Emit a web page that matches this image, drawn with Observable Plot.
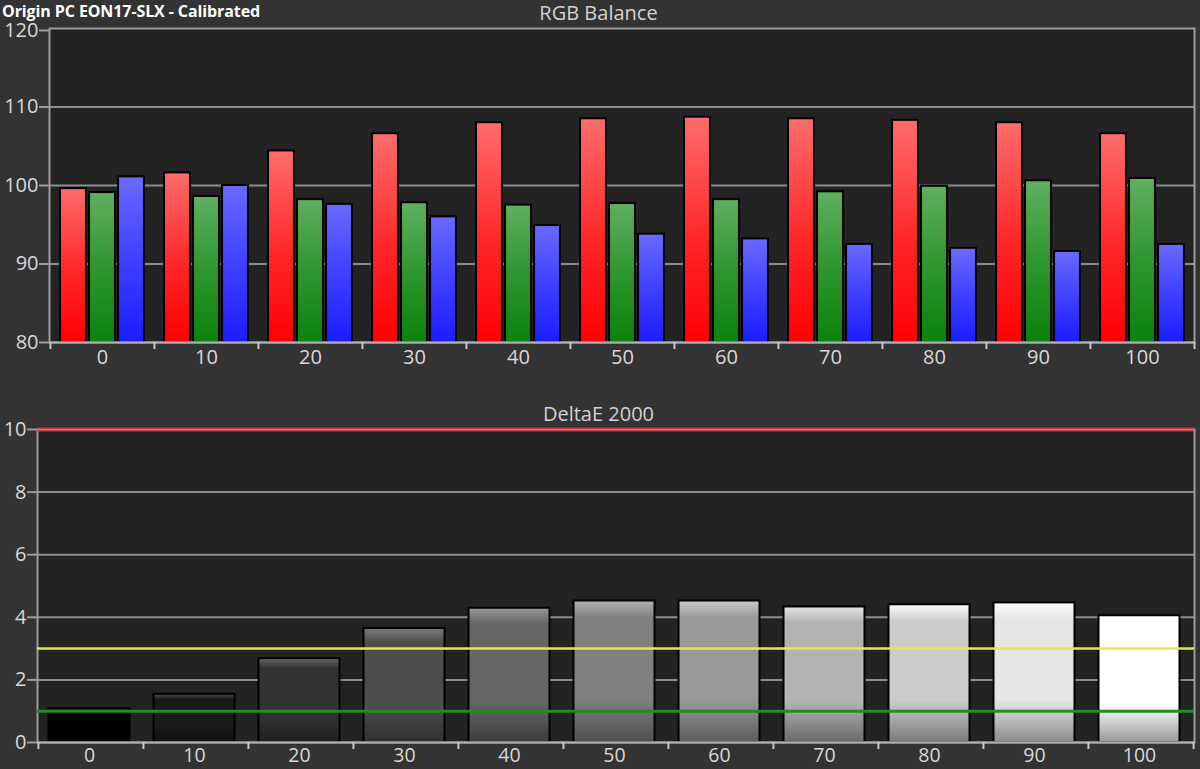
<!DOCTYPE html>
<html>
<head>
<meta charset="utf-8">
<script src="https://cdn.jsdelivr.net/npm/d3@7"></script>
<script src="https://cdn.jsdelivr.net/npm/@observablehq/plot@0.6"></script>
<style>
  html, body { margin: 0; padding: 0; background: #333333; }
  #wrap { position: relative; width: 1200px; height: 769px; overflow: hidden; background: #333333; font-family: "Open Sans", sans-serif; }
  .lbl { position: absolute; line-height: 1; white-space: nowrap; }
  #title { left: 2px; top: 3px; font-size: 16px; font-weight: bold; color: #ffffff; letter-spacing: -0.1px; }
  #rgbTitle { left: 0; width: 1197px; text-align: center; top: 3px; font-size: 20px; color: #d2d2d2; }
  #deTitle { left: 0; width: 1197px; text-align: center; top: 404px; font-size: 20px; color: #d2d2d2; }
  #topChart { position: absolute; left: 0; top: 0; }
  #botChart { position: absolute; left: 0; top: 380px; }
</style>
</head>
<body>
<div id="wrap">
  <div id="topChart"></div>
  <div id="botChart"></div>
  <div class="lbl" id="title">Origin PC EON17-SLX - Calibrated</div>
  <div class="lbl" id="rgbTitle">RGB Balance</div>
  <div class="lbl" id="deTitle">DeltaE 2000</div>
</div>
<script>
// ---------------- data ----------------
const levels = ["0", "10", "20", "30", "40", "50", "60", "70", "80", "90", "100"];
const red   = [99.6, 101.6, 104.4, 106.6, 108.0, 108.5, 108.7, 108.5, 108.3, 108.0, 106.6];
const green = [99.1, 98.6, 98.2, 97.8, 97.5, 97.7, 98.2, 99.2, 99.9, 100.6, 100.9];
const blue  = [101.1, 100.0, 97.6, 96.0, 94.9, 93.8, 93.2, 92.5, 92.0, 91.6, 92.5];
const deltaE = [1.08, 1.54, 2.68, 3.64, 4.29, 4.52, 4.52, 4.33, 4.40, 4.46, 4.05];
const rgbTicks = [80, 90, 100, 110];
const rgbTopTick = [120];
const rgbGrid = [90, 100, 110];
const deTicks = [0, 2, 4, 6, 8, 10];
const deGrid = [2, 4, 6, 8];
const deGood = 1;    // green line
const deWarn = 3;    // yellow line
const deLimit = 10;  // red line

// ---------------- layout ----------------
const W = 1200;
const fontFamily = "'Open Sans', sans-serif";
const labelColor = "#d8d8d8";
const gridColor = "#8e8e8e";
const frameColor = "#9c9c9c";

const rgbRows = levels.map((l, i) => ({level: l, r: red[i], g: green[i], b: blue[i]}));
const deRows = levels.map((l, i) => ({level: l, de: deltaE[i]}));

// ---------------- gradients ----------------
const NS = "http://www.w3.org/2000/svg";
function gradient(id, stops) {
  const g = document.createElementNS(NS, "linearGradient");
  g.setAttribute("id", id);
  g.setAttribute("x1", "0"); g.setAttribute("y1", "0");
  g.setAttribute("x2", "0"); g.setAttribute("y2", "1");
  for (const [off, col] of stops) {
    const s = document.createElementNS(NS, "stop");
    s.setAttribute("offset", off);
    s.setAttribute("stop-color", col);
    g.appendChild(s);
  }
  return g;
}
function addDefs(svg, grads) {
  const defs = document.createElementNS(NS, "defs");
  grads.forEach(g => defs.appendChild(g));
  svg.insertBefore(defs, svg.firstChild);
}
function grayOf(level) { return Math.round(255 * (+level) / 100); }
function hexGray(v) { v = Math.max(0, Math.min(255, Math.round(v))); return d3.rgb(v, v, v).formatHex(); }

// ---------------- top chart: RGB Balance ----------------
const tm = {top: 28, right: 6, bottom: 38, left: 49};
const topStep = (W - tm.left - tm.right) / levels.length;
const barW = 26, barGap = 3;
const edge = (topStep - 3 * barW - 2 * barGap) / 2;
function rgbInsets(k) {
  const l = edge + k * (barW + barGap);
  return {insetLeft: l, insetRight: topStep - l - barW};
}
const tickLen = 7;
const topUnit = (380 - tm.top - tm.bottom) / (120 - 80);
const yAxisStyle = {label: null, tickSize: 10, tickPadding: 1, fontSize: 20, stroke: frameColor, strokeWidth: 2, fill: labelColor};

const topPlot = Plot.plot({
  width: W, height: 380,
  marginTop: tm.top, marginRight: tm.right, marginBottom: tm.bottom, marginLeft: tm.left,
  style: {background: "transparent", color: labelColor, fontFamily, overflow: "visible"},
  x: {domain: levels, padding: 0, axis: null},
  y: {domain: [80, 120], axis: null},
  marks: [
    Plot.frame({fill: "#232323", stroke: null}),
    Plot.ruleY(rgbGrid, {stroke: gridColor, strokeWidth: 2}),
    Plot.barY(rgbRows, {x: "level", y1: 80, y2: "r", fill: "url(#gradR)", stroke: "#000", strokeWidth: 2, ...rgbInsets(0)}),
    Plot.barY(rgbRows, {x: "level", y1: 80, y2: "g", fill: "url(#gradG)", stroke: "#000", strokeWidth: 2, ...rgbInsets(1)}),
    Plot.barY(rgbRows, {x: "level", y1: 80, y2: "b", fill: "url(#gradB)", stroke: "#000", strokeWidth: 2, ...rgbInsets(2)}),
    Plot.frame({stroke: frameColor, strokeWidth: 2}),
    Plot.ruleY([80], {stroke: "#aeaeb8", strokeWidth: 2}),
    Plot.ruleX(levels, {x: d => d, y1: 80, y2: 80 - tickLen / topUnit, dx: -topStep / 2, stroke: "#c8c8c8", strokeWidth: 2}),
    Plot.ruleX(levels.slice(-1), {x: d => d, y1: 80, y2: 80 - tickLen / topUnit, dx: topStep / 2, stroke: "#c8c8c8", strokeWidth: 2}),
    Plot.axisY({ticks: rgbTicks, ...yAxisStyle}),
    Plot.axisY({ticks: rgbTopTick, ...yAxisStyle, dy: 2}),
    Plot.axisX({label: null, tickSize: 0, tickPadding: 7, fontSize: 20, fill: labelColor})
  ]
});
addDefs(topPlot, [
  gradient("gradR", [["0%", "#ff6c6c"], ["55%", "#ff2626"], ["100%", "#ff0000"]]),
  gradient("gradG", [["0%", "#5fb05f"], ["50%", "#2f962f"], ["100%", "#0b820b"]]),
  gradient("gradB", [["0%", "#6a6aff"], ["55%", "#3c3cff"], ["100%", "#1c1cff"]])
]);
document.getElementById("topChart").appendChild(topPlot);

// ---------------- bottom chart: DeltaE 2000 ----------------
const bm = {top: 49, right: 6, bottom: 27, left: 37};
const botStep = (W - bm.left - bm.right) / levels.length;
const botUnit = (389 - bm.top - bm.bottom) / 10;

const botPlot = Plot.plot({
  width: W, height: 389,
  marginTop: bm.top, marginRight: bm.right, marginBottom: bm.bottom, marginLeft: bm.left,
  style: {background: "transparent", color: labelColor, fontFamily, overflow: "visible"},
  x: {domain: levels, padding: 0, axis: null},
  y: {domain: [0, 10], axis: null},
  color: {type: "identity"},
  marks: [
    Plot.frame({fill: "#232323", stroke: null}),
    Plot.ruleY(deGrid, {stroke: gridColor, strokeWidth: 2}),
    Plot.barY(deRows, {x: "level", y1: 0, y2: "de", fill: d => `url(#gradD${d.level})`, stroke: "#000", strokeWidth: 2, insetLeft: 10.5, insetRight: 13.5}),
    Plot.frame({stroke: frameColor, strokeWidth: 2}),
    Plot.ruleY([0], {stroke: "#aeaeb8", strokeWidth: 2}),
    Plot.ruleY([deWarn], {stroke: "#e8e84a", strokeWidth: 2.5}),
    Plot.ruleY([deGood], {stroke: "#238c23", strokeWidth: 3}),
    Plot.ruleY([deLimit], {stroke: "#cc3c44", strokeWidth: 4}),
    Plot.ruleY([deLimit], {stroke: "#e0707a", strokeWidth: 1.2}),
    Plot.ruleX(levels, {x: d => d, y1: 0, y2: -tickLen / botUnit, dx: -botStep / 2, stroke: "#c8c8c8", strokeWidth: 2}),
    Plot.ruleX(levels.slice(-1), {x: d => d, y1: 0, y2: -tickLen / botUnit, dx: botStep / 2, stroke: "#c8c8c8", strokeWidth: 2}),
    Plot.axisY({ticks: deTicks, ...yAxisStyle}),
    Plot.axisX({label: null, tickSize: 0, tickPadding: 6, fontSize: 19.5, fill: labelColor, dx: -1.5})
  ]
});
addDefs(botPlot, levels.map(l => {
  const v = grayOf(l);
  return gradient(`gradD${l}`, [
    ["0%", hexGray(v + 50)],
    ["12%", hexGray(v)],
    ["70%", hexGray(v)],
    ["100%", hexGray(v * 0.6)]
  ]);
}));
document.getElementById("botChart").appendChild(botPlot);
</script>
</body>
</html>
